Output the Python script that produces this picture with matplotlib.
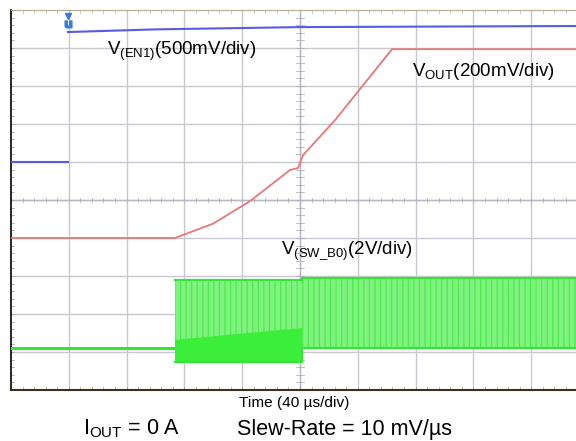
import matplotlib
matplotlib.use("Agg")
import matplotlib.pyplot as plt
import numpy as np

plt.rcParams['font.family'] = ['Liberation Sans', 'DejaVu Sans']
plt.rcParams['mathtext.fontset'] = 'custom'
plt.rcParams['mathtext.rm'] = 'Liberation Sans'
plt.rcParams['mathtext.it'] = 'Liberation Sans'
plt.rcParams['hatch.linewidth'] = 0.8

# time in us (40 us/div, centre = 0), amplitude in scope divisions (centre = 0)
en_low_t = [-200, -160.6]
en_low_v = [1.0, 1.0]
en_high_t = [-160.6, -100, 0, 200]
en_high_v = [4.42, 4.49, 4.55, 4.58]

vout_t = [-200, -86.5, -60, -34.6, -6.9, -1.4, 2.1, 24.2, 63.7, 200]
vout_v = [-1.0, -1.0, -0.62, -0.03, 0.79, 0.84, 1.18, 2.10, 3.97, 3.97]

sw_idle_t = [-200, -86.5]
sw_idle_v = [-3.89, -3.89]
sw_env_t = [-86.5, 1.4, 1.4, 200]
sw_env_hi = [-2.10, -2.10, -2.05, -2.05]
sw_env_lo = [-4.26, -4.26, -3.89, -3.89]
sw_dense_t = [-86.5, 1.4]
sw_dense_hi = [-3.68, -3.37]

trig_t = -160.6

fig = plt.figure(figsize=(5.76, 4.41), dpi=100)
W, H = 576, 441
ax = fig.add_axes([11 / W, 1 - 390 / H, 578 / W, 380 / H])
ax.set_xlim(-200, 200)
ax.set_ylim(-5, 5)
ax.set_xticks([])
ax.set_yticks([])

grid_c = '#c8c8d0'
for gx in np.arange(-160, 161, 40):
    ax.axvline(gx, color=grid_c, lw=1.0, zorder=1)
for gy in np.arange(-4, 5, 1):
    ax.axhline(gy, color=grid_c, lw=1.0, zorder=1)
ax.axvline(0, color='#b8b8c4', lw=1.0, zorder=1)
ax.axhline(0, color='#b8b8c4', lw=1.0, zorder=1)

# minor ticks on centre lines and edges
for mx in np.arange(-200, 201, 8):
    ax.plot([mx, mx], [-0.06, 0.06], color='#b0b0c0', lw=0.6, zorder=1)
    ax.plot([mx, mx], [-5, -4.92], color='#b0a890', lw=0.6, zorder=1)
    ax.plot([mx, mx], [5, 4.92], color='#c8c0b0', lw=0.6, zorder=1)
for my in np.arange(-5, 5.01, 0.2):
    ax.plot([-2.5, 2.5], [my, my], color='#b0b0c0', lw=0.6, zorder=1)
    ax.plot([-200, -198], [my, my], color='#b0b0b0', lw=0.6, zorder=1)

ax.spines['left'].set_color('black')
ax.spines['left'].set_linewidth(1.2)
ax.spines['bottom'].set_color('#3a3020')
ax.spines['bottom'].set_linewidth(1.5)
ax.spines['top'].set_color('#b8a890')
ax.spines['top'].set_linewidth(0.8)
ax.spines['right'].set_visible(False)

# switching node
ax.plot(sw_idle_t, sw_idle_v, color='#33e633', lw=2.2, zorder=3)
ax.fill_between(sw_env_t, sw_env_lo, sw_env_hi, facecolor='#80f280',
                edgecolor='#48ea48', hatch='|||', lw=0, zorder=2)
ax.fill_between(sw_dense_t, [sw_env_lo[0], sw_env_lo[1]], sw_dense_hi,
                facecolor='#3aee3a', edgecolor='none', zorder=3)
ax.plot(sw_env_t, sw_env_hi, color='#33e633', lw=1.5, zorder=3)
ax.plot(sw_env_t, sw_env_lo, color='#33e633', lw=1.5, zorder=3)
ax.plot([1.4, 1.4], [sw_env_lo[1], sw_env_lo[2]], color='#33e633', lw=1.2, zorder=3)

# EN and VOUT
ax.plot(en_low_t, en_low_v, color='#5a5ae8', lw=1.5, zorder=4)
ax.plot(en_high_t, en_high_v, color='#5a5ae8', lw=1.5, zorder=4)
ax.plot(vout_t, vout_v, color='#e87878', lw=1.3, zorder=4)

# trigger marker
ax.plot([trig_t], [4.85], marker='v', color='#3a7ae0', ms=4, zorder=5, clip_on=False)
ax.plot([trig_t], [4.62], marker='$\\mathbf{u}$', color='#3a7ae0', ms=5, zorder=5)

fs = 13.5
fig.text(107 / W, 1 - 51 / H, r'V$_{\mathrm{(EN1)}}$(500mV/div)', fontsize=fs, va='center', ha='left')
fig.text(412 / W, 1 - 72 / H, r'V$_{\mathrm{OUT}}$(200mV/div)', fontsize=fs, va='center', ha='left')
fig.text(281 / W, 1 - 251 / H, r'V$_{\mathrm{(SW\_B0)}}$(2V/div)', fontsize=fs, va='center', ha='left')

fig.text(294 / W, 1 - 403 / H, 'Time (40 µs/div)', fontsize=11.1, va='center', ha='center')
fig.text(83 / W, 1 - 429 / H, r'I$_{\mathrm{OUT}}$ = 0 A', fontsize=15.5, va='center', ha='left')
fig.text(237 / W, 1 - 429 / H, 'Slew-Rate = 10 mV/µs', fontsize=15.5, va='center', ha='left')

fig.savefig('out.png', dpi=100)
